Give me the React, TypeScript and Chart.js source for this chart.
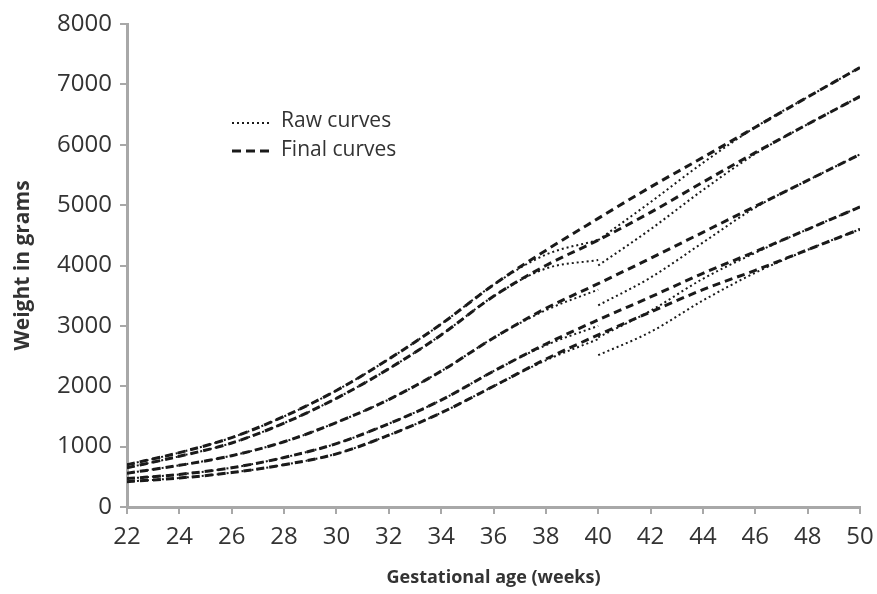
import React, { useEffect, useRef } from "react";
import { Chart, registerables } from "chart.js";

Chart.register(...registerables);

// Gestational age (weeks)
const weeks = [22, 24, 26, 28, 30, 32, 34, 36, 38, 40, 42, 44, 46, 48, 50];

// Final curves (dashed), 5 percentile lines, top to bottom
const final1 = [700, 900, 1150, 1500, 1930, 2450, 3030, 3680, 4250, 4780, 5300, 5790, 6290, 6790, 7280];
const final2 = [650, 840, 1060, 1390, 1800, 2290, 2850, 3490, 4000, 4420, 4880, 5380, 5870, 6340, 6800];
const final3 = [560, 690, 850, 1080, 1400, 1780, 2250, 2800, 3290, 3700, 4120, 4550, 4980, 5410, 5840];
const final4 = [470, 540, 650, 820, 1050, 1380, 1770, 2250, 2700, 3100, 3480, 3870, 4230, 4600, 4970];
const final5 = [420, 480, 570, 700, 880, 1190, 1560, 2000, 2450, 2850, 3230, 3600, 3920, 4260, 4600];

// Raw preterm curves (dotted), 22-40 weeks
const rawPreWeeks = [22, 24, 26, 28, 30, 32, 34, 36, 38, 40];
const rawPre1 = [700, 900, 1150, 1500, 1930, 2450, 3030, 3680, 4180, 4420];
const rawPre2 = [650, 840, 1060, 1390, 1800, 2290, 2850, 3490, 3950, 4090];
const rawPre3 = [560, 690, 850, 1080, 1400, 1780, 2250, 2800, 3260, 3600];
const rawPre4 = [470, 540, 650, 820, 1050, 1380, 1770, 2250, 2680, 3000];
const rawPre5 = [420, 480, 570, 700, 880, 1190, 1560, 2000, 2430, 2780];

// Raw term curves (dotted), 40-50 weeks
const rawTermWeeks = [40, 42, 44, 46, 48, 50];
const rawTerm1 = [4420, 5050, 5700, 6290, 6790, 7280];
const rawTerm2 = [4000, 4600, 5250, 5850, 6340, 6800];
const rawTerm3 = [3340, 3800, 4380, 4960, 5410, 5840];
const rawTerm4 = [2810, 3250, 3780, 4210, 4600, 4970];
const rawTerm5 = [2515, 2900, 3420, 3880, 4260, 4600];

const xTicks = [22, 24, 26, 28, 30, 32, 34, 36, 38, 40, 42, 44, 46, 48, 50];
const yTicks = [0, 1000, 2000, 3000, 4000, 5000, 6000, 7000, 8000];

const legendLabels = ["Raw curves", "Final curves"];
const xTitle = "Gestational age (weeks)";
const yTitle = "Weight in grams";

const pts = (xs: number[], ys: number[]) => xs.map((x, i) => ({ x, y: ys[i] }));

const LINE = "#1a1a1a";
const AXIS = "#a8a8a8";
const TEXT = "#333";

const legendPlugin = {
  id: "customLegend",
  afterDraw(chart: any) {
    const ctx = chart.ctx;
    ctx.save();
    ctx.strokeStyle = LINE;
    ctx.lineWidth = 2;
    ctx.setLineDash([2, 3]);
    ctx.beginPath();
    ctx.moveTo(232, 123);
    ctx.lineTo(271, 123);
    ctx.stroke();
    ctx.lineWidth = 3;
    ctx.setLineDash([9, 5]);
    ctx.beginPath();
    ctx.moveTo(232, 151);
    ctx.lineTo(271, 151);
    ctx.stroke();
    ctx.setLineDash([]);
    ctx.fillStyle = TEXT;
    ctx.font = "21px 'Open Sans'";
    ctx.textBaseline = "middle";
    ctx.textAlign = "left";
    ctx.fillText(legendLabels[0], 281, 121);
    ctx.fillText(legendLabels[1], 281, 150);
    ctx.restore();
  },
};

export default function App() {
  const ref = useRef<HTMLCanvasElement | null>(null);

  useEffect(() => {
    if (!ref.current) return;
    const dotted = (data: any) => ({
      data,
      borderColor: LINE,
      borderWidth: 2,
      borderDash: [2, 3],
      pointRadius: 0,
      fill: false,
      cubicInterpolationMode: "monotone" as const,
    });
    const dashed = (data: any) => ({
      data,
      borderColor: LINE,
      borderWidth: 3,
      borderDash: [8, 5],
      pointRadius: 0,
      fill: false,
      cubicInterpolationMode: "monotone" as const,
    });
    const chart = new Chart(ref.current, {
      type: "line",
      data: {
        datasets: [
          dashed(pts(weeks, final1)),
          dashed(pts(weeks, final2)),
          dashed(pts(weeks, final3)),
          dashed(pts(weeks, final4)),
          dashed(pts(weeks, final5)),
          dotted(pts(rawPreWeeks, rawPre1)),
          dotted(pts(rawPreWeeks, rawPre2)),
          dotted(pts(rawPreWeeks, rawPre3)),
          dotted(pts(rawPreWeeks, rawPre4)),
          dotted(pts(rawPreWeeks, rawPre5)),
          dotted(pts(rawTermWeeks, rawTerm1)),
          dotted(pts(rawTermWeeks, rawTerm2)),
          dotted(pts(rawTermWeeks, rawTerm3)),
          dotted(pts(rawTermWeeks, rawTerm4)),
          dotted(pts(rawTermWeeks, rawTerm5)),
        ],
      },
      options: {
        animation: false,
        responsive: true,
        maintainAspectRatio: false,
        layout: { padding: { top: 24, right: 17, left: 0, bottom: 0 } },
        plugins: { legend: { display: false }, tooltip: { enabled: false } },
        scales: {
          x: {
            type: "linear",
            min: 22,
            max: 50,
            afterBuildTicks: (s: any) => {
              s.ticks = xTicks.map((v) => ({ value: v }));
            },
            afterFit: (s: any) => {
              s.height = 87;
              s.paddingLeft = 0;
              s.paddingRight = 0;
            },
            ticks: {
              color: TEXT,
              font: { family: "'Open Sans'", size: 24 },
              padding: 9,
              maxRotation: 0,
              autoSkip: false,
              callback: (v: any) => String(v),
            },
            grid: {
              drawOnChartArea: false,
              drawTicks: true,
              tickLength: 7,
              color: AXIS,
              lineWidth: 2,
            },
            border: { color: AXIS, width: 3 },
            title: {
              display: true,
              text: xTitle,
              color: TEXT,
              font: { family: "'Open Sans'", size: 18, weight: "bold" },
              padding: { top: 0, bottom: 5 },
            },
          },
          y: {
            type: "linear",
            min: 0,
            max: 8000,
            afterBuildTicks: (s: any) => {
              s.ticks = yTicks.map((v) => ({ value: v }));
            },
            afterFit: (s: any) => {
              s.width = 127;
              s.paddingTop = 0;
              s.paddingBottom = 0;
            },
            ticks: {
              color: TEXT,
              font: { family: "'Open Sans'", size: 24 },
              padding: 8,
              autoSkip: false,
              callback: (v: any) => String(v),
            },
            grid: {
              drawOnChartArea: false,
              drawTicks: true,
              tickLength: 7,
              color: AXIS,
              lineWidth: 2,
            },
            border: { color: AXIS, width: 3 },
            title: {
              display: true,
              text: yTitle,
              color: TEXT,
              font: { family: "'Open Sans'", size: 21, weight: "bold" },
              padding: { top: 10, bottom: 0 },
            },
          },
        },
      },
      plugins: [legendPlugin],
    });
    return () => chart.destroy();
  }, []);

  return (
    <div style={{ position: "fixed", left: 0, top: 0, width: 877, height: 594, background: "#fff" }}>
      <canvas ref={ref} />
    </div>
  );
}
